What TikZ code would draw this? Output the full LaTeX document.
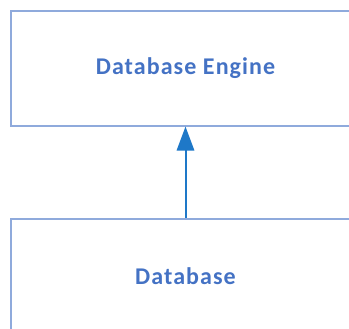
\documentclass[tikz,border=0pt]{standalone}
\usepackage{fontspec}
\setmainfont{Carlito}[LetterSpace=4.5]
\usetikzlibrary{arrows.meta,positioning}
\definecolor{boxline}{HTML}{8FAADC}
\definecolor{boxtext}{HTML}{4472C4}
\definecolor{arrowline}{HTML}{1E78C8}

\begin{document}
\begin{tikzpicture}%
  [x=0.75pt, y=-0.75pt,
   node font=\fontsize{18}{22}\selectfont\bfseries,
   block/.style={rectangle, draw=boxline, line width=1.5pt, text=boxtext,
                 minimum width=349*0.75pt, minimum height=114*0.75pt}]

  \clip (0,0) rectangle (349,328);

  \node (engine) at (185.5,68.5) [block] {Database Engine};
  \node (db) at (185.5,276) [block] {Database};

  \draw[arrowline, line width=1.5pt,
        -{Triangle[length=18pt,width=13pt]}] (db) -- (engine);

\end{tikzpicture}
\end{document}
